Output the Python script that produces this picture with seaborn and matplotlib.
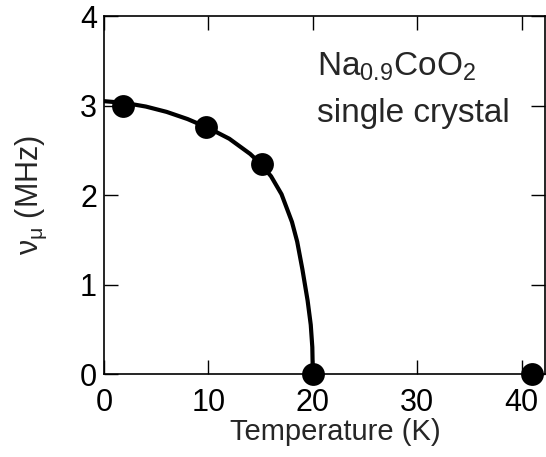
import matplotlib
matplotlib.use("Agg")
import matplotlib.pyplot as plt
import seaborn as sns
import pandas as pd

# measured points
temp_pts = [1.8, 9.8, 15.1, 20.0, 41.0]
freq_pts = [3.00, 2.76, 2.35, 0.0, 0.0]

# fitted curve
curve_T = [0, 2, 4, 6, 8, 10, 12, 14, 15, 16, 17, 18, 18.5, 19, 19.5, 19.8, 19.95, 20.0]
curve_nu = [3.05, 3.03, 2.99, 2.93, 2.85, 2.75, 2.63, 2.46, 2.35, 2.21, 2.01, 1.70, 1.48, 1.17, 0.82, 0.55, 0.30, 0.0]

xticks = [0, 10, 20, 30, 40]
yticks = [0, 1, 2, 3, 4]

sns.set_style("ticks")
plt.rcParams['font.family'] = ['Liberation Sans', 'DejaVu Sans']
plt.rcParams['mathtext.fontset'] = 'custom'
plt.rcParams['mathtext.rm'] = 'Liberation Sans'
plt.rcParams['mathtext.it'] = 'Liberation Sans'
plt.rcParams['mathtext.bf'] = 'Liberation Sans'

fig = plt.figure(figsize=(5.46, 4.57), dpi=100)
ax = fig.add_axes([0.1905, 0.1816, 0.807, 0.783])

dfc = pd.DataFrame({"T": curve_T, "nu": curve_nu})
dfp = pd.DataFrame({"T": temp_pts, "nu": freq_pts})
sns.lineplot(data=dfc, x="T", y="nu", ax=ax, color="black", linewidth=3.0, sort=False)
sns.scatterplot(data=dfp, x="T", y="nu", ax=ax, color="black", s=270, edgecolor="black", linewidth=0, clip_on=False, zorder=5)

ax.set_xlim(0, 42.2)
ax.set_ylim(0, 4)
ax.set_xticks(xticks)
ax.set_yticks(yticks)
ax.tick_params(direction="in", length=10, width=1.0, labelsize=22, top=True, right=True, colors="black")
ax.tick_params(axis="x", pad=10)
ax.tick_params(axis="y", pad=5)
for s in ax.spines.values():
    s.set_linewidth(1.2)
    s.set_color("black")
ax.set_xlabel("Temperature (K)", fontsize=21)
ax.set_ylabel(r"$\nu_\mu$ (MHz)", fontsize=22)
ax.xaxis.set_label_coords(0.524, -0.123)
ax.yaxis.set_label_coords(-0.125, 0.5)

ax.text(0.483, 0.835, r"Na$_{0.9}$CoO$_2$", transform=ax.transAxes, fontsize=24, ha="left", va="baseline")
ax.text(0.483, 0.704, "single crystal", transform=ax.transAxes, fontsize=24, ha="left", va="baseline")

fig.savefig("out.png", dpi=100)
